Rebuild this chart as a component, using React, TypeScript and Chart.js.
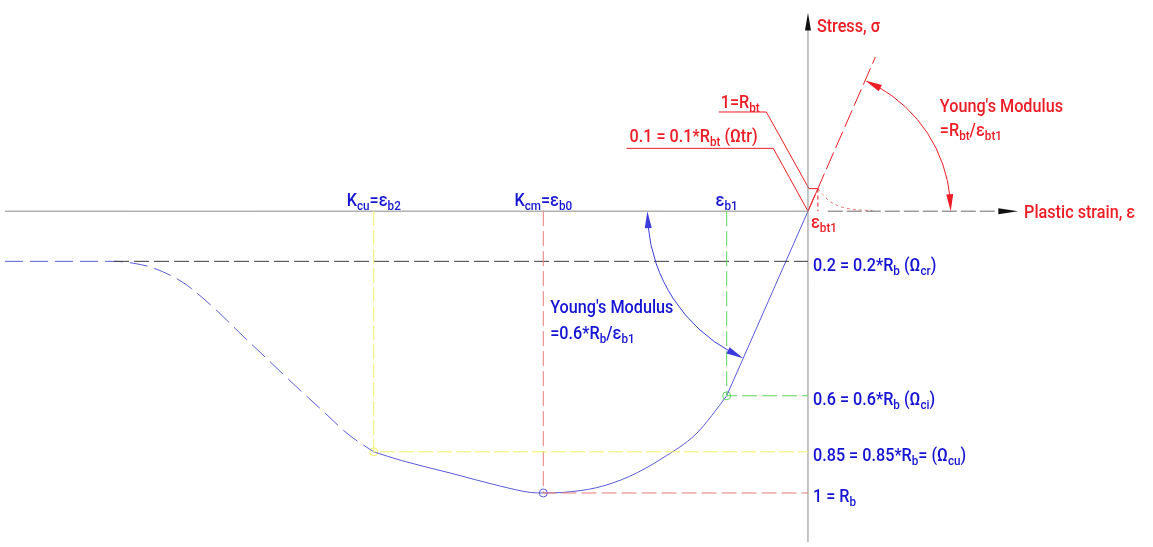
import React, { useEffect, useRef } from "react";
import { Chart, registerables } from "chart.js";

Chart.register(...registerables);

const W = 1153;
const H = 547;

// ---------- DATA (strain on x, stress on y; compression negative) ----------
const X_MIN = -8.1;
const X_MAX = 3.43;
const Y_MIN = -1.174;
const Y_MAX = 0.7317;

// key strains
const EPS_B2 = -4.38; // Kcu
const EPS_B0 = -2.67; // Kcm
const EPS_B1 = -0.82;
const EPS_BT1 = 0.1;

// stress levels (as drawn, schematic)
const LEVEL_CR = -0.178;
const LEVEL_CI = -0.655;
const LEVEL_CU = -0.854;
const LEVEL_RB = -1.0;
const LEVEL_RBT = 0.08;

// compression softening branch (dashed)
const softeningX = [-8.1, -7.0, -6.8, -6.6, -6.3, -6.0, -5.7, -5.43, -5.17, -4.9, -4.63, -4.38];
const softeningY = [-0.178, -0.178, -0.185, -0.202, -0.254, -0.341, -0.443, -0.533, -0.62, -0.707, -0.794, -0.854];
// compression hardening branch (solid)
const hardeningX = [-4.38, -4.1, -3.6, -3.1, -2.8, -2.67, -2.47, -2.13, -1.8, -1.47, -1.13, -0.97, -0.82];
const hardeningY = [-0.854, -0.885, -0.93, -0.976, -0.998, -1.0, -0.998, -0.981, -0.941, -0.877, -0.791, -0.725, -0.655];
// linear elastic compression part
const elasticX = [EPS_B1, 0];
const elasticY = [LEVEL_CI, 0];
// tension
const tensionX = [0, EPS_BT1];
const tensionY = [0, LEVEL_RBT];
const tensionSofteningX = [0.1, 0.15, 0.22, 0.32, 0.45, 0.65];
const tensionSofteningY = [0.08, 0.059, 0.035, 0.017, 0.007, 0.002];
// tension young's modulus line
const modulusLineX = [0, 0.68];
const modulusLineY = [0, 0.547];
// leaders
const leaderRbtX = [-0.9, -0.42, 0.01, EPS_BT1];
const leaderRbtY = [0.352, 0.352, LEVEL_RBT, LEVEL_RBT];
const leaderTrX = [-1.83, -0.35, 0];
const leaderTrY = [0.223, 0.223, 0];
// axes
const AXIS_X_END = 1.92;
const AXIS_X_TIP = 2.12;
const AXIS_Y_END = 0.641;
const AXIS_Y_TIP = 0.704;
const DASHED_AXIS_START = 0.2;
const LEVEL_LINE_START = -7.0;
// angle dimension arcs (start points on the strain axis)
const BLUE_ARC_X = -1.62;
const RED_ARC_X = 1.44;

// ---------- TEXT ----------
const strainLabels = ["K_{cu}=ε_{b2}", "K_{cm}=ε_{b0}", "ε_{b1}"];
const strainLabelAt = [EPS_B2, EPS_B0, EPS_B1];
const stressLabels = [
  "0.2 = 0.2*R_{b} (Ω_{cr})",
  "0.6 = 0.6*R_{b} (Ω_{ci})",
  "0.85 = 0.85*R_{b}= (Ω_{cu})",
  "1 = R_{b}",
];
const stressLabelAt = [LEVEL_CR, LEVEL_CI, LEVEL_CU, LEVEL_RB];
const blueModulusText = ["Young's Modulus", "=0.6*R_{b}/ε_{b1}"];
const redModulusText = ["Young's Modulus", "=R_{bt}/ε_{bt1}"];
const axisTitles = ["Stress, σ", "Plastic strain, ε"];
const rbtLabel = "1=R_{bt}";
const trLabel = "0.1 = 0.1*R_{bt} (Ωtr)";
const bt1Label = "ε_{bt1}";

// ---------- STYLE ----------
const BLUE_LINE = "#5a5ad8";
const BLUE_TEXT = "#1414d2";
const RED = "#ee1c25";
const PINK = "#e87c7c";
const YELLOW = "#f0f060";
const GREEN = "#5cd65c";
const GREY = "#8a8a8a";
const DARK = "#3a3a3a";
const FONT = "Roboto, 'DejaVu Sans', sans-serif";
const FW = "500";
const FS = 18;
const SFS = 13;
const SUB_DY = 4;
const SQ = 0.9;

const pts = (xs: number[], ys: number[]) => xs.map((x, i) => ({ x, y: ys[i] }));

function parseRich(s: string) {
  const out: { t: string; sub: boolean }[] = [];
  const re = /_\{([^}]*)\}/g;
  let last = 0;
  let m: RegExpExecArray | null;
  while ((m = re.exec(s))) {
    if (m.index > last) out.push({ t: s.slice(last, m.index), sub: false });
    out.push({ t: m[1], sub: true });
    last = re.lastIndex;
  }
  if (last < s.length) out.push({ t: s.slice(last), sub: false });
  return out;
}

function drawRich(ctx: CanvasRenderingContext2D, s: string, x: number, y: number, align: string, color: string) {
  const segs = parseRich(s);
  const mainFont = `${FW} ${FS}px ${FONT}`;
  const subFont = `${FW} ${SFS}px ${FONT}`;
  let w = 0;
  for (const sg of segs) {
    ctx.font = sg.sub ? subFont : mainFont;
    w += ctx.measureText(sg.t).width;
  }
  w *= SQ;
  const x0 = align === "center" ? x - w / 2 : align === "right" ? x - w : x;
  ctx.save();
  ctx.fillStyle = color;
  ctx.textAlign = "left";
  ctx.textBaseline = "alphabetic";
  ctx.translate(x0, y);
  ctx.scale(SQ, 1);
  let cx = 0;
  for (const sg of segs) {
    ctx.font = sg.sub ? subFont : mainFont;
    ctx.fillText(sg.t, cx, sg.sub ? SUB_DY : 0);
    cx += ctx.measureText(sg.t).width;
  }
  ctx.restore();
}

function arrowHead(ctx: CanvasRenderingContext2D, tipX: number, tipY: number, dirX: number, dirY: number, len: number, half: number, color: string) {
  const n = Math.hypot(dirX, dirY) || 1;
  const ux = dirX / n;
  const uy = dirY / n;
  const bx = tipX - ux * len;
  const by = tipY - uy * len;
  ctx.save();
  ctx.fillStyle = color;
  ctx.beginPath();
  ctx.moveTo(tipX, tipY);
  ctx.lineTo(bx - uy * half, by + ux * half);
  ctx.lineTo(bx + uy * half, by - ux * half);
  ctx.closePath();
  ctx.fill();
  ctx.restore();
}

// arc centered on (cx,cy) from angle a1 to a2 (clockwise increasing), arrow at both ends
function dimArc(ctx: CanvasRenderingContext2D, cx: number, cy: number, r: number, a1: number, a2: number, color: string, len: number) {
  const da = len / r;
  ctx.save();
  ctx.strokeStyle = color;
  ctx.lineWidth = 1;
  ctx.beginPath();
  ctx.arc(cx, cy, r, a1 + da * 0.8, a2 - da * 0.8, false);
  ctx.stroke();
  ctx.restore();
  const t2x = cx + r * Math.cos(a2);
  const t2y = cy + r * Math.sin(a2);
  const b2x = cx + r * Math.cos(a2 - da);
  const b2y = cy + r * Math.sin(a2 - da);
  arrowHead(ctx, t2x, t2y, t2x - b2x, t2y - b2y, len, 3.5, color);
  const t1x = cx + r * Math.cos(a1);
  const t1y = cy + r * Math.sin(a1);
  const b1x = cx + r * Math.cos(a1 + da);
  const b1y = cy + r * Math.sin(a1 + da);
  arrowHead(ctx, t1x, t1y, t1x - b1x, t1y - b1y, len, 3.5, color);
}

const annotationPlugin = {
  id: "diagramAnnotations",
  afterDatasetsDraw(chart: any) {
    const ctx: CanvasRenderingContext2D = chart.ctx;
    const xs = chart.scales.x;
    const ys = chart.scales.y;
    const px = (v: number) => xs.getPixelForValue(v);
    const py = (v: number) => ys.getPixelForValue(v);
    const ox = px(0);
    const oy = py(0);

    // axis arrows
    arrowHead(ctx, px(AXIS_X_TIP), oy, 1, 0, px(AXIS_X_TIP) - px(AXIS_X_END), 3, "#111");
    arrowHead(ctx, ox, py(AXIS_Y_TIP), 0, -1, py(AXIS_Y_END) - py(AXIS_Y_TIP), 3, "#111");

    // blue angle arc (compression modulus)
    const rB = Math.abs(px(BLUE_ARC_X) - ox);
    const aB = Math.atan2(py(LEVEL_CI) - oy, px(EPS_B1) - ox);
    dimArc(ctx, ox, oy, rB, aB, Math.PI, "#3c3cdc", 17);

    // red angle arc (tension modulus)
    const rR = Math.abs(px(RED_ARC_X) - ox);
    const aR = Math.atan2(py(modulusLineY[1]) - oy, px(modulusLineX[1]) - ox);
    dimArc(ctx, ox, oy, rR, aR, 0, RED, 17);

    const mid = (v: number) => v + FS * 0.36;

    strainLabels.forEach((t, i) => drawRich(ctx, t, px(strainLabelAt[i]), oy - 5, "center", BLUE_TEXT));
    stressLabels.forEach((t, i) => drawRich(ctx, t, ox + 5, mid(py(stressLabelAt[i]) + 3), "left", BLUE_TEXT));
    drawRich(ctx, blueModulusText[0], px(-2.6), mid(py(-0.338)), "left", BLUE_TEXT);
    drawRich(ctx, blueModulusText[1], px(-2.6), mid(py(-0.429)), "left", BLUE_TEXT);
    drawRich(ctx, axisTitles[0], px(0.09), mid(py(0.659)), "left", RED);
    drawRich(ctx, axisTitles[1], px(2.18), mid(oy), "left", RED);
    drawRich(ctx, redModulusText[0], px(1.33), mid(py(0.376)), "left", RED);
    drawRich(ctx, redModulusText[1], px(1.33), mid(py(0.289)), "left", RED);
    drawRich(ctx, rbtLabel, px(-0.88), py(0.366), "left", RED);
    drawRich(ctx, trLabel, px(-1.8), py(0.244), "left", RED);
    drawRich(ctx, bt1Label, px(0.03), mid(py(-0.035)), "left", RED);
  },
};

function line(data: { x: number; y: number }[], color: string, dash: number[] = [], extra: any = {}) {
  return {
    data,
    showLine: true,
    borderColor: color,
    backgroundColor: color,
    borderWidth: 1,
    borderDash: dash,
    pointRadius: 0,
    fill: false,
    ...extra,
  };
}

export default function App() {
  const ref = useRef<HTMLCanvasElement | null>(null);
  useEffect(() => {
    if (!ref.current) return;
    const datasets: any[] = [
      line(pts([EPS_B2, EPS_B2, 0], [0, LEVEL_CU, LEVEL_CU]), YELLOW, [15, 4]),
      line(pts([EPS_B0, EPS_B0, 0], [0, LEVEL_RB, LEVEL_RB]), PINK, [15, 5]),
      line(pts([EPS_B1, EPS_B1, 0], [0, LEVEL_CI, LEVEL_CI]), GREEN, [15, 5]),
      line(pts([LEVEL_LINE_START, 0], [LEVEL_CR, LEVEL_CR]), DARK, [15, 5]),
      line(pts([X_MIN, 0], [0, 0]), GREY),
      line(pts([DASHED_AXIS_START, AXIS_X_END], [0, 0]), "#6a6a6a", [15, 4]),
      line(pts([0, 0], [Y_MIN, AXIS_Y_END]), GREY),
      line(pts(softeningX, softeningY), BLUE_LINE, [18, 7], { cubicInterpolationMode: "monotone" }),
      line(pts(hardeningX, hardeningY), BLUE_LINE, [], { cubicInterpolationMode: "monotone" }),
      line(pts(elasticX, elasticY), BLUE_LINE),
      line(pts(modulusLineX, modulusLineY), RED, [18, 5]),
      line(pts(tensionX, tensionY), RED),
      line(pts([EPS_BT1, EPS_BT1], [LEVEL_RBT, 0]), RED, [4, 3]),
      line(pts(tensionSofteningX, tensionSofteningY), PINK, [3, 3], { cubicInterpolationMode: "monotone" }),
      line(pts(leaderRbtX, leaderRbtY), RED),
      line(pts(leaderTrX, leaderTrY), RED),
      { data: [{ x: EPS_B1, y: LEVEL_CI }], pointRadius: 4, borderColor: GREEN, backgroundColor: "rgba(0,0,0,0)", borderWidth: 1, showLine: false },
      { data: [{ x: EPS_B0, y: LEVEL_RB }], pointRadius: 4, borderColor: BLUE_LINE, backgroundColor: "rgba(0,0,0,0)", borderWidth: 1, showLine: false },
      { data: [{ x: EPS_B2, y: LEVEL_CU }], pointRadius: 4, borderColor: YELLOW, backgroundColor: "rgba(0,0,0,0)", borderWidth: 1, showLine: false },
    ];
    const chart = new Chart(ref.current, {
      type: "scatter",
      data: { datasets },
      options: {
        animation: false,
        responsive: false,
        devicePixelRatio: 1,
        layout: { padding: 0 },
        plugins: { legend: { display: false }, tooltip: { enabled: false } },
        events: [],
        scales: {
          x: { type: "linear", min: X_MIN, max: X_MAX, display: false },
          y: { type: "linear", min: Y_MIN, max: Y_MAX, display: false },
        },
      },
      plugins: [annotationPlugin],
    } as any);
    return () => chart.destroy();
  }, []);
  return (
    <div style={{ position: "fixed", left: 0, top: 0, width: W, height: H, background: "#fff" }}>
      <canvas ref={ref} width={W} height={H} style={{ width: W, height: H, display: "block" }} />
    </div>
  );
}
